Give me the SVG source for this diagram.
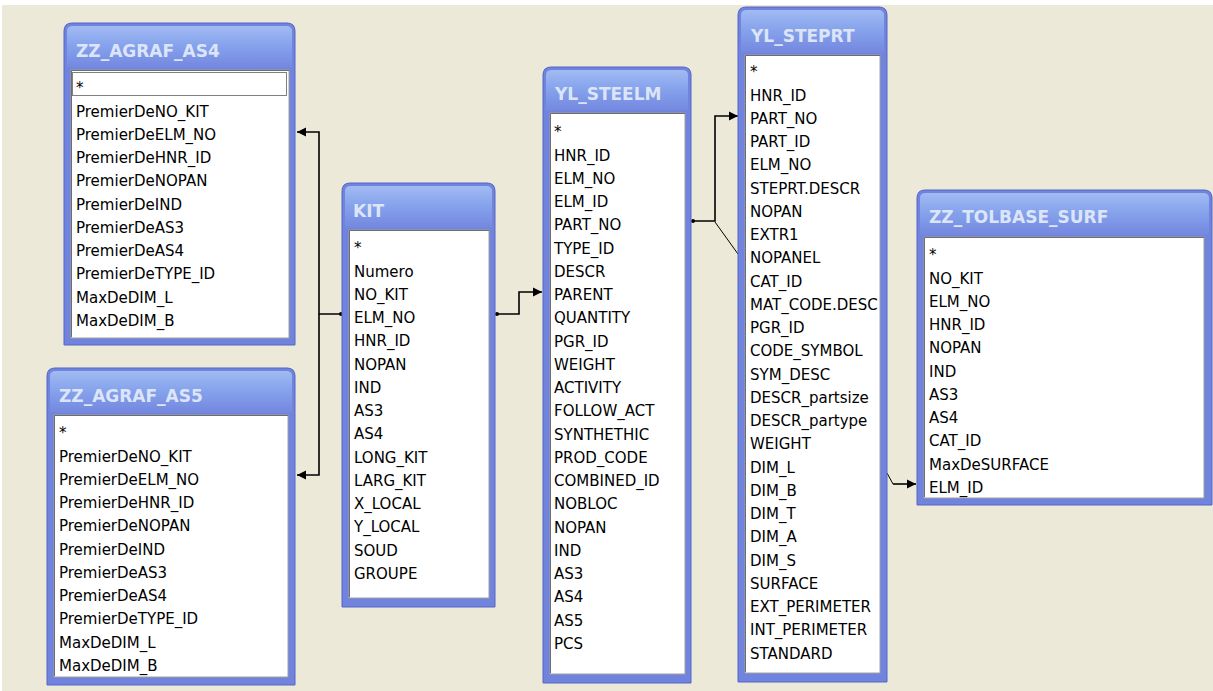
<svg xmlns="http://www.w3.org/2000/svg" width="1213" height="691" viewBox="0 0 1213 691">
<style>
.frame{fill:#7083DD;stroke:#5466C9;stroke-width:1}
.title{fill:url(#tg)}
.ttl{font-family:"DejaVu Sans",sans-serif;font-weight:bold;font-size:17px;fill:#DCE5F8}
.panel{fill:#FFFFFF;stroke:#A0A0A0;stroke-width:1}
.shade{fill:none;stroke:#6E6E6E;stroke-width:1}
.fld{font-family:"DejaVu Sans",sans-serif;font-size:15px;fill:#000000}
.conn{fill:none;stroke:#000000;stroke-width:1.6}
.thin{fill:none;stroke:#000000;stroke-width:1}
.focus{fill:none;stroke:#000000;stroke-width:1;stroke-dasharray:1 1}
</style>
<defs>
<linearGradient id="tg" x1="0" y1="0" x2="0" y2="1">
<stop offset="0" stop-color="#A2BBF3"/>
<stop offset="0.45" stop-color="#86A3EC"/>
<stop offset="1" stop-color="#7487DF"/>
</linearGradient>
<marker id="arr" markerUnits="userSpaceOnUse" markerWidth="10" markerHeight="10" viewBox="0 0 10 10" refX="9" refY="5" orient="auto">
<path d="M0 0.5 L9 5 L0 9.5 Z" fill="#000000"/>
</marker>
<clipPath id="cpS"><rect x="745" y="55" width="135" height="618"/></clipPath>
</defs>
<rect x="0" y="0" width="1213" height="691" fill="#FFFFFF"/>
<rect x="2" y="5" width="1211" height="686" fill="#ECE9D8"/>

<g id="connectors">
<path class="conn" d="M342 314 H319 V132 H297" marker-end="url(#arr)"/>
<path class="conn" d="M319 314 V475 H297" marker-end="url(#arr)"/>
<path class="conn" d="M496 314 H519 V292 H542" marker-end="url(#arr)"/>
<path class="conn" d="M692 221 H715 V116 H738" marker-end="url(#arr)"/>
<path class="thin" d="M715 222 L738 254"/>
<path class="thin" d="M887 473 L893 484"/>
<path class="conn" d="M893 484 H916" marker-end="url(#arr)"/>
<circle cx="341" cy="314" r="2"/>
<circle cx="497" cy="314" r="2"/>
<circle cx="693" cy="221" r="2"/>
</g>

<g id="zz_agraf_as4">
<path class="frame" d="M64 31 Q64 23 72 23 H287 Q295 23 295 31 V345 H64 Z"/>
<path class="title" d="M67 31 Q67 26 73 26 H286 Q292 26 292 31 V68 H67 Z"/>
<text class="ttl" x="76" y="57">ZZ_AGRAF_AS4</text>
<rect class="panel" x="71" y="70" width="218" height="268"/>
<path class="shade" d="M71.5 337 V70.5 H289"/>
<rect class="focus" x="72.5" y="72.5" width="214" height="23"/>
<g class="fld">
<text x="76" y="93.3">*</text>
<text x="76" y="116.6">PremierDeNO_KIT</text>
<text x="76" y="139.8">PremierDeELM_NO</text>
<text x="76" y="163.1">PremierDeHNR_ID</text>
<text x="76" y="186.3">PremierDeNOPAN</text>
<text x="76" y="209.6">PremierDeIND</text>
<text x="76" y="232.8">PremierDeAS3</text>
<text x="76" y="256.1">PremierDeAS4</text>
<text x="76" y="279.3">PremierDeTYPE_ID</text>
<text x="76" y="302.6">MaxDeDIM_L</text>
<text x="76" y="325.8">MaxDeDIM_B</text>
</g>
</g>

<g id="zz_agraf_as5">
<path class="frame" d="M47 376 Q47 368 55 368 H287 Q295 368 295 376 V685 H47 Z"/>
<path class="title" d="M50 376 Q50 371 56 371 H286 Q292 371 292 376 V413 H50 Z"/>
<text class="ttl" x="59" y="402">ZZ_AGRAF_AS5</text>
<rect class="panel" x="54" y="415" width="234" height="262"/>
<path class="shade" d="M54.5 676 V415.5 H288"/>
<g class="fld">
<text x="59" y="438.3">*</text>
<text x="59" y="461.6">PremierDeNO_KIT</text>
<text x="59" y="484.8">PremierDeELM_NO</text>
<text x="59" y="508.1">PremierDeHNR_ID</text>
<text x="59" y="531.3">PremierDeNOPAN</text>
<text x="59" y="554.6">PremierDeIND</text>
<text x="59" y="577.8">PremierDeAS3</text>
<text x="59" y="601.1">PremierDeAS4</text>
<text x="59" y="624.3">PremierDeTYPE_ID</text>
<text x="59" y="647.6">MaxDeDIM_L</text>
<text x="59" y="670.8">MaxDeDIM_B</text>
</g>
</g>

<g id="kit">
<path class="frame" d="M342 191 Q342 183 350 183 H487 Q495 183 495 191 V607 H342 Z"/>
<path class="title" d="M345 191 Q345 186 351 186 H486 Q492 186 492 191 V228 H345 Z"/>
<text class="ttl" x="353" y="217">KIT</text>
<rect class="panel" x="349" y="230" width="140" height="368"/>
<path class="shade" d="M349.5 597 V230.5 H489"/>
<g class="fld">
<text x="354" y="253.3">*</text>
<text x="354" y="276.6">Numero</text>
<text x="354" y="299.8">NO_KIT</text>
<text x="354" y="323.1">ELM_NO</text>
<text x="354" y="346.3">HNR_ID</text>
<text x="354" y="369.6">NOPAN</text>
<text x="354" y="392.8">IND</text>
<text x="354" y="416.1">AS3</text>
<text x="354" y="439.3">AS4</text>
<text x="354" y="462.6">LONG_KIT</text>
<text x="354" y="485.8">LARG_KIT</text>
<text x="354" y="509.1">X_LOCAL</text>
<text x="354" y="532.3">Y_LOCAL</text>
<text x="354" y="555.6">SOUD</text>
<text x="354" y="578.8">GROUPE</text>
</g>
</g>

<g id="yl_steelm">
<path class="frame" d="M543 75 Q543 67 551 67 H683 Q691 67 691 75 V683 H543 Z"/>
<path class="title" d="M546 75 Q546 70 552 70 H682 Q688 70 688 75 V111 H546 Z"/>
<text class="ttl" x="555" y="100">YL_STEELM</text>
<rect class="panel" x="550" y="113" width="135" height="561"/>
<path class="shade" d="M550.5 673 V113.5 H685"/>
<g class="fld">
<text x="554" y="137.3">*</text>
<text x="554" y="160.6">HNR_ID</text>
<text x="554" y="183.8">ELM_NO</text>
<text x="554" y="207.1">ELM_ID</text>
<text x="554" y="230.3">PART_NO</text>
<text x="554" y="253.6">TYPE_ID</text>
<text x="554" y="276.8">DESCR</text>
<text x="554" y="300.1">PARENT</text>
<text x="554" y="323.3">QUANTITY</text>
<text x="554" y="346.6">PGR_ID</text>
<text x="554" y="369.8">WEIGHT</text>
<text x="554" y="393.1">ACTIVITY</text>
<text x="554" y="416.3">FOLLOW_ACT</text>
<text x="554" y="439.6">SYNTHETHIC</text>
<text x="554" y="462.8">PROD_CODE</text>
<text x="554" y="486.1">COMBINED_ID</text>
<text x="554" y="509.3">NOBLOC</text>
<text x="554" y="532.6">NOPAN</text>
<text x="554" y="555.8">IND</text>
<text x="554" y="579.1">AS3</text>
<text x="554" y="602.3">AS4</text>
<text x="554" y="625.6">AS5</text>
<text x="554" y="648.8">PCS</text>
</g>
</g>

<g id="yl_steprt">
<path class="frame" d="M738 15 Q738 7 746 7 H879 Q887 7 887 15 V682 H738 Z"/>
<path class="title" d="M741 15 Q741 10 747 10 H878 Q884 10 884 15 V53 H741 Z"/>
<text class="ttl" x="751" y="42">YL_STEPRT</text>
<rect class="panel" x="745" y="55" width="135" height="618"/>
<path class="shade" d="M745.5 672 V55.5 H880"/>
<g class="fld" clip-path="url(#cpS)">
<text x="750" y="77.3">*</text>
<text x="750" y="100.6">HNR_ID</text>
<text x="750" y="123.8">PART_NO</text>
<text x="750" y="147.1">PART_ID</text>
<text x="750" y="170.3">ELM_NO</text>
<text x="750" y="193.6">STEPRT.DESCR</text>
<text x="750" y="216.8">NOPAN</text>
<text x="750" y="240.1">EXTR1</text>
<text x="750" y="263.3">NOPANEL</text>
<text x="750" y="286.6">CAT_ID</text>
<text x="750" y="309.8">MAT_CODE.DESC</text>
<text x="750" y="333.1">PGR_ID</text>
<text x="750" y="356.3">CODE_SYMBOL</text>
<text x="750" y="379.6">SYM_DESC</text>
<text x="750" y="402.8">DESCR_partsize</text>
<text x="750" y="426.1">DESCR_partype</text>
<text x="750" y="449.3">WEIGHT</text>
<text x="750" y="472.6">DIM_L</text>
<text x="750" y="495.8">DIM_B</text>
<text x="750" y="519.1">DIM_T</text>
<text x="750" y="542.3">DIM_A</text>
<text x="750" y="565.6">DIM_S</text>
<text x="750" y="588.8">SURFACE</text>
<text x="750" y="612.1">EXT_PERIMETER</text>
<text x="750" y="635.3">INT_PERIMETER</text>
<text x="750" y="658.6">STANDARD</text>
</g>
</g>

<g id="zz_tolbase_surf">
<path class="frame" d="M917 198 Q917 190 925 190 H1204 Q1212 190 1212 198 V505 H917 Z"/>
<path class="title" d="M920 198 Q920 193 926 193 H1203 Q1209 193 1209 198 V235 H920 Z"/>
<text class="ttl" x="929" y="223">ZZ_TOLBASE_SURF</text>
<rect class="panel" x="924" y="237" width="280" height="261"/>
<path class="shade" d="M924.5 497 V237.5 H1204"/>
<g class="fld">
<text x="929" y="260.3">*</text>
<text x="929" y="283.6">NO_KIT</text>
<text x="929" y="306.8">ELM_NO</text>
<text x="929" y="330.1">HNR_ID</text>
<text x="929" y="353.3">NOPAN</text>
<text x="929" y="376.6">IND</text>
<text x="929" y="399.8">AS3</text>
<text x="929" y="423.1">AS4</text>
<text x="929" y="446.3">CAT_ID</text>
<text x="929" y="469.6">MaxDeSURFACE</text>
<text x="929" y="492.8">ELM_ID</text>
</g>
</g>
</svg>
